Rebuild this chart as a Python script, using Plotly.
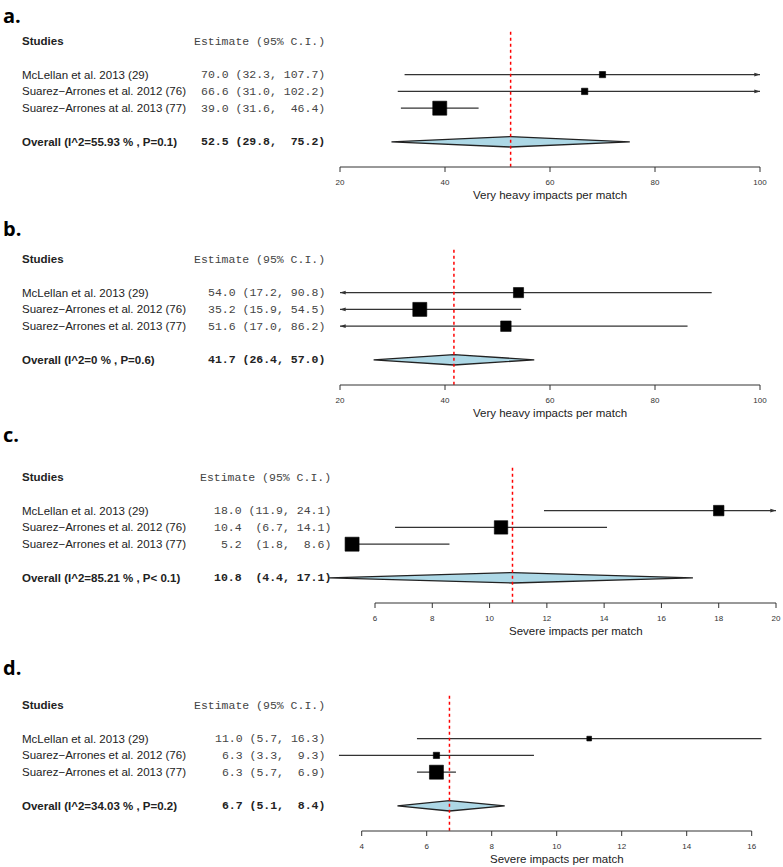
import plotly.graph_objects as go

W, H = 783, 867
RH = 16.8  # pixels per table row

names_a = ["McLellan et al. 2013 (29)", "Suarez−Arrones et al. 2012 (76)", "Suarez−Arrones at al. 2013 (77)"]
names = ["McLellan et al. 2013 (29)", "Suarez−Arrones et al. 2012 (76)", "Suarez−Arrones et al. 2013 (77)"]

est_a = [70.0, 66.6, 39.0]
lo_a = [32.3, 31.0, 31.6]
hi_a = [107.7, 102.2, 46.4]
pool_a = [52.5, 29.8, 75.2]
overall_a = "Overall (I^2=55.93 % , P=0.1)"
ticks_a = [20, 40, 60, 80, 100]

est_b = [54.0, 35.2, 51.6]
lo_b = [17.2, 15.9, 17.0]
hi_b = [90.8, 54.5, 86.2]
pool_b = [41.7, 26.4, 57.0]
overall_b = "Overall (I^2=0 % , P=0.6)"
ticks_b = [20, 40, 60, 80, 100]

est_c = [18.0, 10.4, 5.2]
lo_c = [11.9, 6.7, 1.8]
hi_c = [24.1, 14.1, 8.6]
pool_c = [10.8, 4.4, 17.1]
overall_c = "Overall (I^2=85.21 % , P< 0.1)"
ticks_c = [6, 8, 10, 12, 14, 16, 18, 20]

est_d = [11.0, 6.3, 6.3]
lo_d = [5.7, 3.3, 5.7]
hi_d = [16.3, 9.3, 6.9]
pool_d = [6.7, 5.1, 8.4]
overall_d = "Overall (I^2=34.03 % , P=0.2)"
ticks_d = [4, 6, 8, 10, 12, 14, 16]

title_heavy = "Very heavy impacts per match"
title_severe = "Severe impacts per match"

# panel geometry (pixels) and clipping limits
panels = [
    dict(label="a.", names=names_a, est=est_a, lo=lo_a, hi=hi_a, pool=pool_a, overall=overall_a,
         ticks=ticks_a, xtitle=title_heavy, head=41, lab=None, tick_px=(340, 760), num_px=327, clip=(20, 100)),
    dict(label="b.", names=names, est=est_b, lo=lo_b, hi=hi_b, pool=pool_b, overall=overall_b,
         ticks=ticks_b, xtitle=title_heavy, head=259, lab=228, tick_px=(340, 760), num_px=327, clip=(20, 100)),
    dict(label="c.", names=names, est=est_c, lo=lo_c, hi=hi_c, pool=pool_c, overall=overall_c,
         ticks=ticks_c, xtitle=title_severe, head=477, lab=434, tick_px=(375, 776), num_px=333, clip=(5, 20)),
    dict(label="d.", names=names, est=est_d, lo=lo_d, hi=hi_d, pool=pool_d, overall=overall_d,
         ticks=ticks_d, xtitle=title_severe, head=705, lab=667, tick_px=(361.7, 751.7), num_px=327,
         clip=(float("-inf"), float("inf"))),
]

ROWS = [2, 3, 4]
POOL_ROW = 6
AXIS_ROW = 7.5
Y_TOP, Y_BOT = -1.2, 9.6
BOX = 14

SANS = "Liberation Sans"
MONO = "Liberation Mono"
DARK = "#222222"


def est_column(est, lo, hi, pool):
    e = [f"{v:.1f}" for v in est + [pool[0]]]
    l = [f"({v:.1f}," for v in lo + [pool[1]]]
    h = [f"{v:.1f})" for v in hi + [pool[2]]]
    we, wl, wh = (max(map(len, c)) for c in (e, l, h))
    rows = [f"{a:>{we}} {b:>{wl}} {c:>{wh}}" for a, b, c in zip(e, l, h)]
    return [r.replace(" ", "\u00a0") for r in rows]


fig = go.Figure()
annotations = []

for i, p in enumerate(panels):
    n = "" if i == 0 else str(i + 1)
    xr, yr = "x" + n, "y" + n
    t0, t1 = p["ticks"][0], p["ticks"][-1]
    px0, px1 = p["tick_px"]
    s = (px1 - px0) / (t1 - t0)
    fig.layout["xaxis" + n] = dict(domain=[0, 1], range=[t0 - px0 / s, t0 + (W - px0) / s],
                                   visible=False, anchor=yr, fixedrange=True)
    fig.layout["yaxis" + n] = dict(domain=[1 - (p["head"] + Y_BOT * RH) / H, 1 - (p["head"] + Y_TOP * RH) / H],
                                   range=[Y_BOT, Y_TOP], visible=False, anchor=xr, fixedrange=True)

    lo_clip, hi_clip = p["clip"]

    # confidence interval lines
    cx, cy = [], []
    arrows_r, arrows_l = [], []
    for r, lo, hi in zip(ROWS, p["lo"], p["hi"]):
        cx += [max(lo, lo_clip), min(hi, hi_clip), None]
        cy += [r, r, None]
        if hi > hi_clip:
            arrows_r.append((hi_clip, r))
        if lo < lo_clip:
            arrows_l.append((lo_clip, r))
    fig.add_trace(go.Scatter(x=cx, y=cy, mode="lines", line=dict(color="#333333", width=1.3),
                             xaxis=xr, yaxis=yr, hoverinfo="skip"))
    for pts, ang in ((arrows_r, 90), (arrows_l, -90)):
        if pts:
            fig.add_trace(go.Scatter(x=[q[0] for q in pts], y=[q[1] for q in pts], mode="markers",
                                     marker=dict(symbol="arrow", angle=ang, size=6, color="#333333"),
                                     xaxis=xr, yaxis=yr, cliponaxis=False, hoverinfo="skip"))

    # study squares, side ~ sqrt(1/se)
    se = [(hi - lo) / 3.92 for lo, hi in zip(p["lo"], p["hi"])]
    sizes = [BOX * (min(se) / v) ** 0.5 for v in se]
    fig.add_trace(go.Scatter(x=p["est"], y=ROWS, mode="markers",
                             marker=dict(symbol="square", size=sizes, color="#000000", opacity=1,
                                         line=dict(width=0.6, color="#000000")),
                             xaxis=xr, yaxis=yr, cliponaxis=False, hoverinfo="skip"))

    # pooled diamond
    m, lo, hi = p["pool"]
    hh = 0.31
    fig.add_trace(go.Scatter(x=[lo, m, hi, m, lo], y=[POOL_ROW, POOL_ROW - hh, POOL_ROW, POOL_ROW + hh, POOL_ROW],
                             mode="lines", fill="toself", fillcolor="#add8e6",
                             line=dict(color="#222222", width=1.3), xaxis=xr, yaxis=yr, hoverinfo="skip"))

    # pooled estimate reference line
    fig.add_trace(go.Scatter(x=[m, m], y=[-0.55, AXIS_ROW], mode="lines",
                             line=dict(color="red", width=1.5, dash="3px,3px"),
                             xaxis=xr, yaxis=yr, hoverinfo="skip"))

    # x axis drawn by hand so it spans only the ticked range
    tl = 5 / RH
    ax_x, ax_y = [t0, t1, None], [AXIS_ROW, AXIS_ROW, None]
    for t in p["ticks"]:
        ax_x += [t, t, None]
        ax_y += [AXIS_ROW, AXIS_ROW + tl, None]
    fig.add_trace(go.Scatter(x=ax_x, y=ax_y, mode="lines", line=dict(color="#333333", width=1),
                             xaxis=xr, yaxis=yr, hoverinfo="skip"))
    fig.add_trace(go.Scatter(x=p["ticks"], y=[AXIS_ROW + 16 / RH] * len(p["ticks"]), mode="text",
                             text=[str(t) for t in p["ticks"]], textposition="middle center",
                             textfont=dict(family=SANS, size=8, color="#333333"),
                             xaxis=xr, yaxis=yr, cliponaxis=False, hoverinfo="skip"))
    annotations.append(dict(x=(t0 + t1) / 2, y=AXIS_ROW + 27.5 / RH, xref=xr, yref=yr, text=p["xtitle"],
                            showarrow=False, xanchor="center", yanchor="middle",
                            font=dict(family=SANS, size=11.5, color=DARK)))

    # panel letter
    if p["lab"] is None:
        lab_pos = dict(y=1, yanchor="top")
    else:
        lab_pos = dict(y=1 - p["lab"] / H, yanchor="middle")
    annotations.append(dict(x=1 / W, xref="paper", yref="paper", text="<b>" + p["label"] + "</b>",
                            showarrow=False, xanchor="left", font=dict(family="Open Sans", size=20, color="black"),
                            **lab_pos))

    # table text
    left = 20 / W
    right = p["num_px"] / W
    annotations.append(dict(x=left, y=0, xref="paper", yref=yr, text="<b>Studies</b>", showarrow=False,
                            xanchor="left", yanchor="middle", font=dict(family=SANS, size=11.5, color=DARK)))
    annotations.append(dict(x=right, y=0, xref="paper", yref=yr, text="Estimate\u00a0(95%\u00a0C.I.)",
                            showarrow=False, xanchor="right", yanchor="middle",
                            font=dict(family=MONO, size=11.5, color="#444444")))
    col = est_column(p["est"], p["lo"], p["hi"], p["pool"])
    for r, name, txt in zip(ROWS, p["names"], col):
        annotations.append(dict(x=left, y=r, xref="paper", yref=yr, text=name, showarrow=False,
                                xanchor="left", yanchor="middle", font=dict(family=SANS, size=11.5, color=DARK)))
        annotations.append(dict(x=right, y=r, xref="paper", yref=yr, text=txt, showarrow=False,
                                xanchor="right", yanchor="middle", font=dict(family=MONO, size=11.5, color="#444444")))
    annotations.append(dict(x=left, y=POOL_ROW, xref="paper", yref=yr, text="<b>" + p["overall"] + "</b>",
                            showarrow=False, xanchor="left", yanchor="middle",
                            font=dict(family=SANS, size=11.5, color=DARK)))
    annotations.append(dict(x=right, y=POOL_ROW, xref="paper", yref=yr, text="<b>" + col[-1] + "</b>",
                            showarrow=False, xanchor="right", yanchor="middle",
                            font=dict(family=MONO, size=11.5, color="#222222")))

fig.update_layout(
    width=W, height=H,
    margin=dict(l=0, r=0, t=0, b=0),
    paper_bgcolor="white", plot_bgcolor="white",
    showlegend=False,
    annotations=annotations,
)

fig.write_html("out.html", config={"displayModeBar": False},
               post_script="document.body.style.margin='0';")
